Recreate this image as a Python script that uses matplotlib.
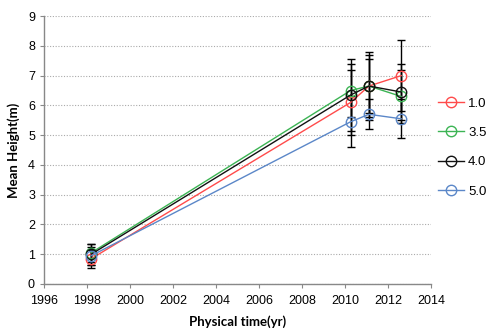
import matplotlib
matplotlib.use("Agg")
import matplotlib.pyplot as plt

years = [1998.2, 2010.25, 2011.1, 2012.6]
labels = ["1.0", "3.5", "4.0", "5.0"]
colors = ["#FF4B4B", "#3CB454", "#111111", "#5B87C8"]
h_10 = [0.85, 6.1, 6.65, 7.0]
h_35 = [1.05, 6.5, 6.65, 6.3]
h_40 = [1.0, 6.35, 6.65, 6.45]
h_50 = [0.95, 5.45, 5.7, 5.55]
err_10 = [0.3, 1.1, 1.05, 1.2]
err_35 = [0.3, 0.9, 0.9, 0.9]
err_40 = [0.35, 1.2, 1.15, 0.95]
err_50 = [0.3, 0.85, 0.5, 0.65]
series = [h_10, h_35, h_40, h_50]
errs = [err_10, err_35, err_40, err_50]

fig = plt.figure(figsize=(4.86, 3.29), dpi=100)
ax = fig.add_axes([0.0905, 0.137, 0.797, 0.814])

for y, e in zip(series, errs):
    ax.errorbar(years, y, yerr=e, fmt="none", ecolor="#000000", elinewidth=1.0,
                capsize=3, capthick=1.0, zorder=2)
handles = []
for y, c, lab in zip(series, colors, labels):
    h, = ax.plot(years, y, color=c, lw=1.0, marker="o", ms=7.5, mfc="none",
                 mec=c, mew=1.0, label=lab, zorder=3)
    handles.append(h)

ax.set_xlim(1996, 2014)
ax.set_ylim(0, 9)
ax.set_xticks(range(1996, 2015, 2))
ax.set_yticks(range(0, 10))
ax.yaxis.grid(True, linestyle=(0, (1, 1.5)), color="#AAAAAA", lw=0.8)
ax.set_axisbelow(True)
for s in ["top", "right"]:
    ax.spines[s].set_visible(False)
for s in ["left", "bottom"]:
    ax.spines[s].set_color("#888888")
    ax.spines[s].set_linewidth(1.0)
ax.tick_params(axis="both", direction="out", length=3, color="#888888",
               labelsize=9, labelcolor="#000000")
ax.tick_params(axis="x", pad=5)
for t in ax.get_xticklabels() + ax.get_yticklabels():
    t.set_family("Liberation Sans")

ax.set_xlabel("Physical time(yr)", fontsize=9.5, fontweight="bold", family="Lato", labelpad=6)
ax.set_ylabel("Mean Height(m)", fontsize=9.5, fontweight="bold", family="Lato", labelpad=6)

leg = fig.legend(handles=handles, labels=labels, loc="upper left",
                 bbox_to_anchor=(0.89, 0.72), frameon=False, fontsize=9.5,
                 handlelength=2.0, labelspacing=1.3, handletextpad=0.3,
                 borderaxespad=0)
for t in leg.get_texts():
    t.set_family("Liberation Sans")

fig.savefig("out.png", dpi=100)
